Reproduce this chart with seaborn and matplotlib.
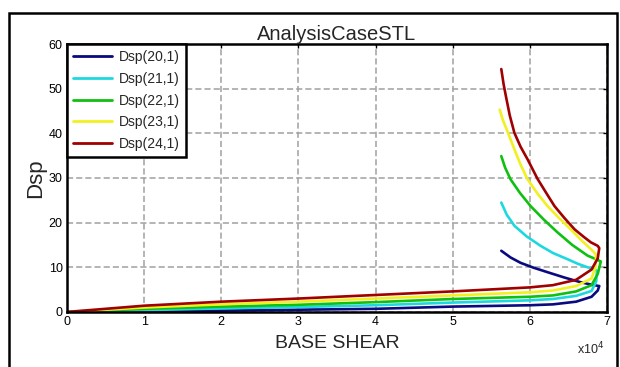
import matplotlib
matplotlib.use("Agg")
import matplotlib.pyplot as plt
import matplotlib.ticker as mticker
from matplotlib.patches import Rectangle
import seaborn as sns
import pandas as pd

# ---- data (BASE SHEAR in N, displacement) ----
series_names = ["Dsp(20,1)", "Dsp(21,1)", "Dsp(22,1)", "Dsp(23,1)", "Dsp(24,1)"]
series_colors = ["#0a0a80", "#1ed8e0", "#10c010", "#f2f020", "#a00000"]

shear_20 = [0, 10000, 20000, 30000, 40000, 50000, 60000, 63000, 66000, 68000, 68800, 69000,
            68000, 66500, 64500, 62300, 60500, 58800, 57500, 56300]
dsp_20 = [0, 0.15, 0.3, 0.5, 0.7, 1.2, 1.5, 1.7, 2.3, 3.4, 4.8, 5.8,
          6.1, 6.7, 7.7, 8.9, 9.9, 11.0, 12.2, 13.7]

shear_21 = [0, 10000, 20000, 30000, 40000, 50000, 60000, 63000, 66000, 68000, 68600, 68700,
            68300, 67500, 66200, 64900, 63000, 61400, 59600, 58000, 57000, 56300]
dsp_21 = [0, 0.4, 0.8, 1.1, 1.5, 2.1, 2.6, 2.9, 3.6, 4.7, 6.8, 9.2,
          9.6, 10.0, 10.8, 11.8, 13.2, 14.8, 16.9, 19.3, 21.8, 24.5]

shear_22 = [0, 10000, 20000, 30000, 40000, 50000, 60000, 63000, 66000, 68000, 68800, 69200,
            68600, 67500, 65500, 63600, 61800, 60100, 58700, 57500, 56800, 56300]
dsp_22 = [0, 0.7, 1.2, 1.6, 2.2, 2.9, 3.4, 3.7, 4.6, 6.0, 8.5, 11.3,
          11.8, 12.6, 15.0, 17.8, 20.7, 23.7, 26.7, 29.7, 32.3, 34.9]

shear_23 = [0, 10000, 20000, 30000, 40000, 50000, 60000, 63000, 66000, 68000, 68500, 68600,
            68300, 67900, 66600, 65300, 63800, 62300, 61000, 59700, 58800, 58000, 57200,
            56500, 56100]
dsp_23 = [0, 1.0, 1.7, 2.3, 3.0, 3.7, 4.4, 4.8, 5.8, 7.5, 10.0, 12.8,
          13.4, 14.1, 16.2, 18.5, 21.0, 23.7, 26.5, 29.7, 33.0, 36.4, 40.0,
          43.0, 45.3]

shear_24 = [0, 10000, 20000, 30000, 40000, 50000, 60000, 63000, 66000, 68000, 68800, 69000,
            68800, 67900, 67000, 65800, 64500, 63200, 62000, 61000, 59700, 58800, 58000,
            57400, 56900, 56600, 56300]
dsp_24 = [0, 1.4, 2.3, 3.0, 3.8, 4.6, 5.5, 6.0, 7.2, 9.5, 12.0, 14.3,
          14.8, 15.6, 16.8, 18.5, 21.0, 23.7, 27.0, 29.8, 34.2, 37.0, 40.1,
          44.0, 48.3, 51.0, 54.4]

x_ticks = [0, 10000, 20000, 30000, 40000, 50000, 60000, 70000]
y_ticks = [0, 10, 20, 30, 40, 50, 60]

frames = []
for name, xs, ys in zip(series_names,
                        [shear_20, shear_21, shear_22, shear_23, shear_24],
                        [dsp_20, dsp_21, dsp_22, dsp_23, dsp_24]):
    frames.append(pd.DataFrame({"shear": xs, "dsp": ys, "series": name}))
df = pd.concat(frames, ignore_index=True)

sns.set_theme(style="white")
plt.rcParams["font.family"] = ["Liberation Sans", "DejaVu Sans"]

fig = plt.figure(figsize=(6.2, 3.67), dpi=100)
ax = fig.add_axes([0.108, 0.150, 0.871, 0.730])

sns.lineplot(data=df, x="shear", y="dsp", hue="series", hue_order=series_names,
             palette=series_colors, sort=False, estimator=None, units="series",
             linewidth=1.9, ax=ax)

ax.set_xlim(0, 70000)
ax.set_ylim(0, 60)
ax.set_xticks(x_ticks)
ax.set_yticks(y_ticks)
ax.xaxis.set_major_formatter(mticker.FuncFormatter(lambda v, p: f"{v/1e4:g}"))
ax.grid(True, color="#a0a0a0", linestyle=(0, (4, 2)), linewidth=1.1)
ax.tick_params(direction="in", length=3, width=1, top=True, right=True,
               labelsize=9, pad=3, colors="black")
for s in ax.spines.values():
    s.set_color("black")
    s.set_linewidth(1.8)

ax.set_title("AnalysisCaseSTL", fontsize=14.5, pad=3)
ax.set_xlabel("BASE SHEAR", fontsize=14, labelpad=5)
ax.set_ylabel("Dsp", fontsize=16, labelpad=2)
fig.text(0.952, 0.035, "x10$^4$", fontsize=9, ha="center", va="baseline")

leg = ax.legend(loc="upper left", borderaxespad=0, fontsize=10, frameon=True,
                fancybox=False, handlelength=2.8, handletextpad=0.5,
                labelspacing=0.55, borderpad=0.45)
leg.get_frame().set_edgecolor("black")
leg.get_frame().set_linewidth(1.8)
leg.get_frame().set_alpha(1)
for h in leg.get_lines():
    h.set_linewidth(2.0)

fig.patches.append(Rectangle((0.015, -0.02), 0.98, 0.985, transform=fig.transFigure,
                             fill=False, edgecolor="black", linewidth=1.8))

fig.savefig("out.png", dpi=100, facecolor="white")
